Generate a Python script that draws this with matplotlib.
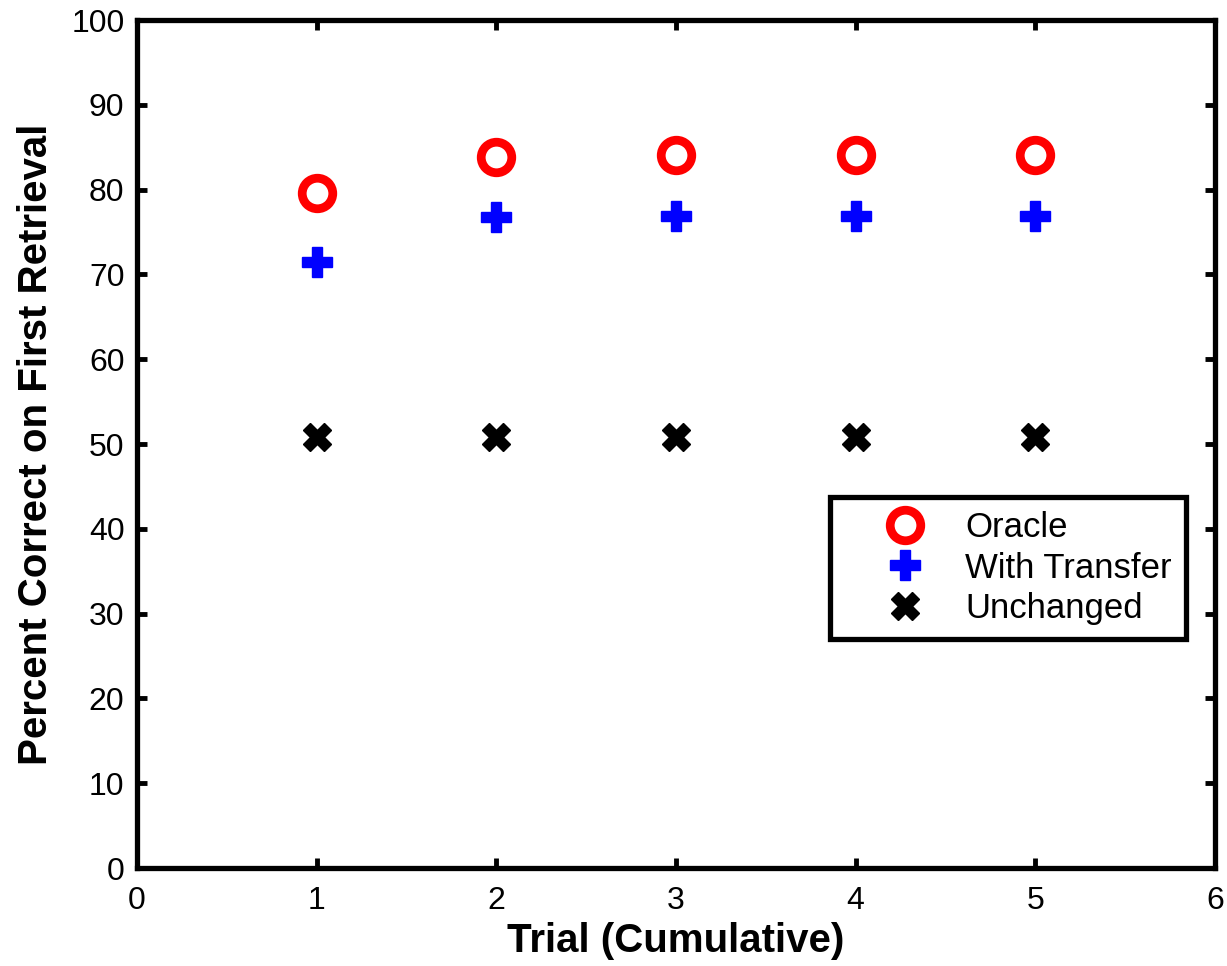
import matplotlib.pyplot as plt
import numpy as np

plt.rcParams['font.family'] = ['Liberation Sans', 'DejaVu Sans']

# Data
trials = [1, 2, 3, 4, 5]
oracle = [79.6, 83.8, 84.1, 84.1, 84.1]
with_transfer = [71.5, 76.8, 76.9, 76.9, 76.9]
unchanged = [50.8, 50.8, 50.8, 50.8, 50.8]

fig = plt.figure(figsize=(12.27, 9.66), dpi=100)
ax = fig.add_axes([137 / 1227, 1 - 868 / 966, (1215 - 137) / 1227, (868 - 20) / 966])

ax.plot(trials, oracle, 'o', ms=22, mfc='white', mec='red', mew=6.3, ls='none', label='Oracle')
ax.plot(trials, with_transfer, 'P', ms=22, color='blue', mec='blue', ls='none', label='With Transfer')
ax.plot(trials, unchanged, 'X', ms=20, color='black', mec='black', ls='none', label='Unchanged')

ax.set_xlim(0, 6)
ax.set_ylim(0, 100)
ax.set_xticks(np.arange(0, 7, 1))
ax.set_yticks(np.arange(0, 101, 10))
ax.tick_params(direction='in', length=7, width=3.5, labelsize=23, top=True, right=True)
ax.tick_params(axis='x', pad=13)
ax.tick_params(axis='y', pad=9)
for s in ax.spines.values():
    s.set_linewidth(3.8)

ax.set_xlabel('Trial (Cumulative)', fontsize=29, fontweight='bold', labelpad=4)
ax.set_ylabel('Percent Correct on First Retrieval', fontsize=29, fontweight='bold', labelpad=12)

leg = ax.legend(loc='upper left', bbox_to_anchor=((830 - 137) / 1078, (868 - 497) / 848),
                fontsize=25, frameon=True, fancybox=False, edgecolor='black', framealpha=1,
                borderpad=0.4, handletextpad=0.0, labelspacing=0.22, borderaxespad=0,
                handlelength=3.5, markerscale=1.0)
leg.get_frame().set_linewidth(3.8)

fig.savefig('out.png', dpi=100)
